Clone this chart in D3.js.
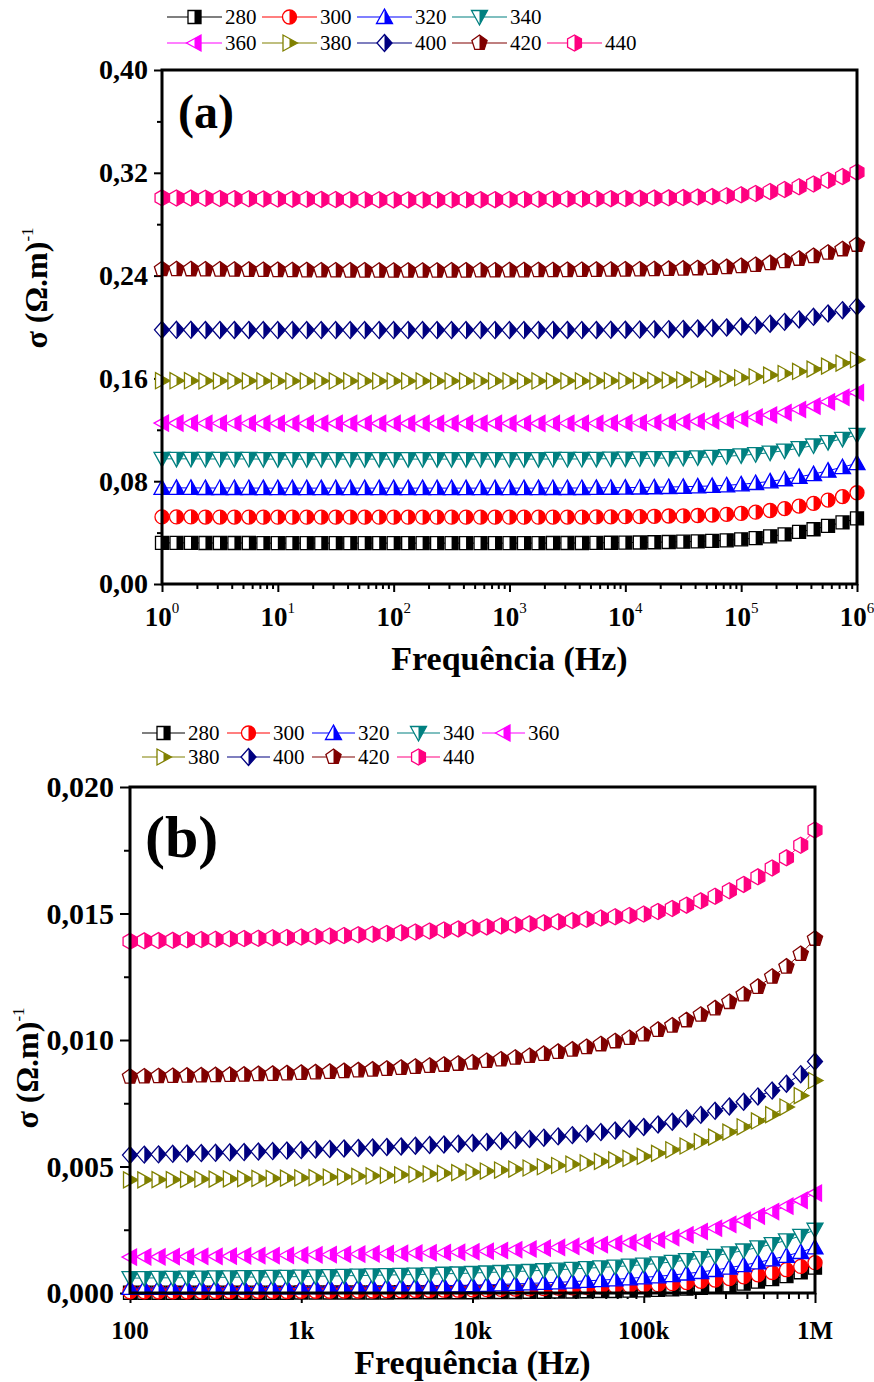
<!DOCTYPE html>
<html>
<head>
<meta charset="utf-8">
<script src="https://cdn.jsdelivr.net/npm/d3@7"></script>
<style>
  body { margin: 0; background: #fff; }
  svg { display: block; }
  text { font-family: "Liberation Serif", "Times New Roman", serif; fill: #000; }
</style>
</head>
<body>
<svg id="fig" width="874" height="1382"></svg>
<script>
// ---------- series labels, colours, symbols ----------
const temps   = ["280", "300", "320", "340", "360", "380", "400", "420", "440"];
const colors  = ["#000000", "#ff0000", "#0000ff", "#008080", "#ff00ff", "#808000", "#000080", "#800000", "#ff0080"];
const symbols = ["square", "circle", "triUp", "triDown", "triLeft", "triRight", "diamond", "pentagon", "hexagon"];

// ---------- panel (a): frequencies (Hz) ----------
const freqA = [
  1, 1.334, 1.778, 2.371, 3.162, 4.217, 5.623, 7.499,
  10, 13.34, 17.78, 23.71, 31.62, 42.17, 56.23, 74.99,
  100, 133.4, 177.8, 237.1, 316.2, 421.7, 562.3, 749.9,
  1000, 1334, 1778, 2371, 3162, 4217, 5623, 7499,
  10000, 13340, 17780, 23710, 31620, 42170, 56230, 74990,
  100000, 133400, 177800, 237100, 316200, 421700, 562300, 749900,
  1000000
];

// panel (a): conductivity (Ω.m)^-1 for each temperature
const a280 = [
  0.0320,0.0320,0.0320,0.0319,0.0319,0.0319,0.0319,0.0318,0.0318,0.0318,0.0318,0.0318,
  0.0318,0.0318,0.0318,0.0318,0.0318,0.0318,0.0318,0.0318,0.0318,0.0318,0.0318,0.0318,
  0.0318,0.0318,0.0318,0.0319,0.0319,0.0319,0.0320,0.0321,0.0322,0.0323,0.0325,0.0327,
  0.0329,0.0331,0.0335,0.0340,0.0348,0.0357,0.0371,0.0386,0.0405,0.0426,0.0453,0.0479,0.0510
];
const a300 = [
  0.0522,0.0522,0.0522,0.0521,0.0521,0.0521,0.0521,0.0520,0.0520,0.0520,0.0520,0.0520,
  0.0520,0.0520,0.0520,0.0520,0.0520,0.0520,0.0520,0.0520,0.0520,0.0520,0.0520,0.0520,
  0.0520,0.0520,0.0520,0.0521,0.0521,0.0521,0.0522,0.0523,0.0524,0.0525,0.0527,0.0529,
  0.0530,0.0533,0.0537,0.0542,0.0549,0.0559,0.0572,0.0587,0.0606,0.0627,0.0653,0.0680,0.0710
];
const a320 = [
  0.0748,0.0748,0.0748,0.0747,0.0747,0.0747,0.0747,0.0746,0.0746,0.0746,0.0746,0.0746,
  0.0746,0.0746,0.0746,0.0746,0.0746,0.0746,0.0746,0.0746,0.0746,0.0746,0.0746,0.0746,
  0.0746,0.0746,0.0746,0.0747,0.0747,0.0747,0.0748,0.0749,0.0750,0.0751,0.0753,0.0755,
  0.0757,0.0760,0.0763,0.0768,0.0776,0.0786,0.0799,0.0815,0.0834,0.0855,0.0882,0.0909,0.0940
];
const a340 = [
  0.0974,0.0974,0.0974,0.0973,0.0973,0.0973,0.0973,0.0972,0.0972,0.0972,0.0972,0.0972,
  0.0972,0.0972,0.0972,0.0972,0.0972,0.0972,0.0972,0.0972,0.0972,0.0972,0.0972,0.0972,
  0.0972,0.0972,0.0972,0.0973,0.0973,0.0973,0.0974,0.0975,0.0976,0.0977,0.0979,0.0980,
  0.0982,0.0985,0.0989,0.0994,0.1001,0.1010,0.1023,0.1038,0.1057,0.1078,0.1104,0.1130,0.1160
];
const a360 = [
  0.1252,0.1252,0.1252,0.1251,0.1251,0.1251,0.1251,0.1250,0.1250,0.1250,0.1250,0.1250,
  0.1250,0.1250,0.1250,0.1250,0.1250,0.1250,0.1250,0.1250,0.1250,0.1250,0.1250,0.1250,
  0.1250,0.1250,0.1250,0.1251,0.1251,0.1250,0.1251,0.1252,0.1254,0.1255,0.1257,0.1260,
  0.1262,0.1266,0.1270,0.1276,0.1286,0.1298,0.1315,0.1334,0.1358,0.1384,0.1418,0.1452,0.1490
];
const a380 = [
  0.1582,0.1582,0.1582,0.1581,0.1581,0.1581,0.1581,0.1580,0.1580,0.1580,0.1580,0.1580,
  0.1580,0.1580,0.1580,0.1580,0.1580,0.1580,0.1580,0.1580,0.1580,0.1580,0.1580,0.1580,
  0.1580,0.1580,0.1580,0.1581,0.1581,0.1580,0.1581,0.1582,0.1582,0.1583,0.1585,0.1587,
  0.1588,0.1591,0.1594,0.1598,0.1605,0.1613,0.1625,0.1638,0.1654,0.1672,0.1696,0.1719,0.1745
];
const a400 = [
  0.1978,0.1978,0.1978,0.1977,0.1977,0.1977,0.1977,0.1976,0.1976,0.1976,0.1976,0.1976,
  0.1976,0.1976,0.1976,0.1976,0.1976,0.1976,0.1976,0.1976,0.1976,0.1976,0.1976,0.1976,
  0.1976,0.1976,0.1976,0.1977,0.1977,0.1976,0.1977,0.1978,0.1979,0.1980,0.1982,0.1983,
  0.1985,0.1988,0.1992,0.1996,0.2004,0.2013,0.2026,0.2040,0.2059,0.2079,0.2105,0.2131,0.2160
];
const a420 = [
  0.2450,0.2450,0.2449,0.2448,0.2447,0.2446,0.2445,0.2444,0.2443,0.2442,0.2441,0.2440,
  0.2440,0.2439,0.2439,0.2438,0.2438,0.2438,0.2438,0.2438,0.2439,0.2439,0.2440,0.2440,
  0.2441,0.2441,0.2442,0.2442,0.2443,0.2444,0.2445,0.2446,0.2447,0.2448,0.2450,0.2452,
  0.2454,0.2457,0.2461,0.2466,0.2474,0.2483,0.2497,0.2512,0.2531,0.2552,0.2578,0.2605,0.2640
];
const a440 = [
  0.3005,0.3004,0.3003,0.3002,0.3000,0.2999,0.2998,0.2997,0.2996,0.2995,0.2994,0.2993,
  0.2992,0.2991,0.2990,0.2990,0.2989,0.2989,0.2989,0.2989,0.2990,0.2990,0.2991,0.2991,
  0.2992,0.2993,0.2994,0.2995,0.2996,0.2997,0.2998,0.2999,0.3000,0.3001,0.3003,0.3005,
  0.3007,0.3011,0.3015,0.3021,0.3029,0.3039,0.3054,0.3070,0.3091,0.3113,0.3142,0.3171,0.3205
];

// ---------- panel (b): frequencies (Hz) ----------
const freqB = [
  100, 121.2, 146.8, 177.8, 215.4, 261.0, 316.2, 383.1, 464.2, 562.3, 681.3, 825.4,
  1000, 1212, 1468, 1778, 2154, 2610, 3162, 3831, 4642, 5623, 6813, 8254,
  10000, 12120, 14680, 17780, 21540, 26100, 31620, 38310, 46420, 56230, 68130, 82540,
  100000, 121200, 146800, 177800, 215400, 261000, 316200, 383100, 464200, 562300, 681300, 825400,
  1000000
];

// panel (b): conductivity (Ω.m)^-1 for each temperature
const b280 = [
  0.00001,0.00001,0.00001,0.00001,0.00001,0.00001,0.00001,0.00001,0.00001,0.00001,0.00001,0.00001,
  0.00002,0.00002,0.00002,0.00002,0.00002,0.00002,0.00002,0.00003,0.00003,0.00003,0.00003,0.00003,
  0.00003,0.00004,0.00004,0.00004,0.00005,0.00005,0.00006,0.00006,0.00007,0.00008,0.00008,0.00009,
  0.00010,0.00012,0.00014,0.00017,0.00020,0.00024,0.00030,0.00037,0.00045,0.00055,0.00067,0.00082,0.00100
];
const b300 = [
  0.00005,0.00005,0.00005,0.00005,0.00005,0.00005,0.00006,0.00006,0.00006,0.00006,0.00006,0.00006,
  0.00007,0.00007,0.00007,0.00008,0.00008,0.00008,0.00009,0.00009,0.00010,0.00010,0.00011,0.00011,
  0.00012,0.00013,0.00014,0.00015,0.00016,0.00017,0.00019,0.00020,0.00022,0.00024,0.00026,0.00028,
  0.00030,0.00033,0.00037,0.00041,0.00046,0.00051,0.00057,0.00064,0.00072,0.00081,0.00092,0.00105,0.00120
];
const b320 = [
  0.00020,0.00020,0.00020,0.00020,0.00021,0.00021,0.00021,0.00021,0.00021,0.00022,0.00022,0.00022,
  0.00022,0.00023,0.00023,0.00024,0.00024,0.00025,0.00026,0.00026,0.00027,0.00028,0.00029,0.00030,
  0.00031,0.00032,0.00034,0.00036,0.00038,0.00040,0.00042,0.00045,0.00048,0.00051,0.00054,0.00058,
  0.00062,0.00066,0.00071,0.00077,0.00083,0.00091,0.00100,0.00110,0.00121,0.00133,0.00147,0.00162,0.00180
];
const b340 = [
  0.00059,0.00059,0.00060,0.00060,0.00061,0.00061,0.00062,0.00062,0.00063,0.00063,0.00064,0.00064,
  0.00065,0.00066,0.00067,0.00068,0.00069,0.00070,0.00071,0.00072,0.00073,0.00074,0.00076,0.00077,
  0.00079,0.00081,0.00083,0.00085,0.00087,0.00090,0.00092,0.00095,0.00098,0.00101,0.00104,0.00108,
  0.00112,0.00117,0.00123,0.00130,0.00138,0.00147,0.00157,0.00168,0.00180,0.00193,0.00208,0.00226,0.00250
];
const b360 = [
  0.00142,0.00143,0.00143,0.00144,0.00144,0.00145,0.00145,0.00146,0.00147,0.00148,0.00148,0.00149,
  0.00150,0.00151,0.00152,0.00153,0.00154,0.00155,0.00156,0.00157,0.00158,0.00159,0.00160,0.00161,
  0.00163,0.00165,0.00168,0.00171,0.00174,0.00177,0.00180,0.00184,0.00187,0.00191,0.00195,0.00199,
  0.00203,0.00210,0.00219,0.00230,0.00243,0.00256,0.00271,0.00287,0.00304,0.00322,0.00343,0.00366,0.00395
];
const b380 = [
  0.00447,0.00447,0.00448,0.00448,0.00449,0.00450,0.00450,0.00451,0.00452,0.00453,0.00453,0.00454,
  0.00455,0.00456,0.00458,0.00459,0.00461,0.00463,0.00465,0.00467,0.00469,0.00471,0.00473,0.00476,
  0.00478,0.00482,0.00486,0.00490,0.00494,0.00499,0.00504,0.00509,0.00514,0.00520,0.00526,0.00532,
  0.00540,0.00552,0.00566,0.00581,0.00598,0.00616,0.00636,0.00657,0.00680,0.00705,0.00735,0.00780,0.00840
];
const b400 = [
  0.00545,0.00547,0.00548,0.00550,0.00551,0.00553,0.00554,0.00556,0.00557,0.00559,0.00561,0.00563,
  0.00565,0.00567,0.00569,0.00571,0.00573,0.00575,0.00577,0.00579,0.00582,0.00585,0.00587,0.00590,
  0.00593,0.00597,0.00601,0.00605,0.00609,0.00614,0.00619,0.00624,0.00630,0.00636,0.00642,0.00649,
  0.00656,0.00666,0.00677,0.00690,0.00704,0.00720,0.00737,0.00756,0.00777,0.00800,0.00827,0.00865,0.00915
];
const b420 = [
  0.00855,0.00856,0.00857,0.00858,0.00859,0.00860,0.00861,0.00862,0.00863,0.00865,0.00866,0.00868,
  0.00870,0.00872,0.00874,0.00877,0.00880,0.00883,0.00886,0.00890,0.00894,0.00898,0.00902,0.00906,
  0.00911,0.00917,0.00923,0.00930,0.00937,0.00945,0.00953,0.00962,0.00972,0.00983,0.00995,0.01008,
  0.01022,0.01040,0.01057,0.01078,0.01100,0.01125,0.01150,0.01180,0.01210,0.01250,0.01290,0.01340,0.01400
];
const b440 = [
  0.01390,0.01392,0.01393,0.01394,0.01396,0.01397,0.01398,0.01400,0.01401,0.01402,0.01404,0.01405,
  0.01407,0.01409,0.01411,0.01413,0.01416,0.01418,0.01421,0.01424,0.01427,0.01431,0.01435,0.01439,
  0.01443,0.01447,0.01451,0.01455,0.01459,0.01463,0.01467,0.01472,0.01477,0.01482,0.01487,0.01492,
  0.01498,0.01508,0.01520,0.01533,0.01550,0.01568,0.01590,0.01615,0.01645,0.01680,0.01720,0.01770,0.01830
];

// ---------- tick values and labels ----------
const yTicksA      = [0, 0.08, 0.16, 0.24, 0.32, 0.40];
const yMinorA      = [0.04, 0.12, 0.20, 0.28, 0.36];
const xTicksA      = [1, 10, 100, 1000, 10000, 100000, 1000000];
const xExpA        = ["0", "1", "2", "3", "4", "5", "6"];
const yTicksB      = [0, 0.005, 0.010, 0.015, 0.020];
const yMinorB      = [0.0025, 0.0075, 0.0125, 0.0175];
const xTicksB      = [100, 1000, 10000, 100000, 1000000];
const xLabelsB     = ["100", "1k", "10k", "100k", "1M"];

const seriesA = [a280, a300, a320, a340, a360, a380, a400, a420, a440];
const seriesB = [b280, b300, b320, b340, b360, b380, b400, b420, b440];

// ---------- drawing ----------
const svg = d3.select("#fig");
svg.append("rect").attr("width", 874).attr("height", 1382).attr("fill", "#fff");

// clip that keeps only the right half of a symbol (in the symbol's own coordinates)
svg.append("defs").append("clipPath")
  .attr("id", "rightHalf").attr("clipPathUnits", "userSpaceOnUse")
  .append("rect").attr("x", 0).attr("y", -20).attr("width", 20).attr("height", 40);

function poly(pts) { return "M" + pts.map(p => p[0].toFixed(2) + "," + p[1].toFixed(2)).join("L") + "Z"; }
function regular(n, r, rot) {
  const pts = [];
  for (let k = 0; k < n; k++) {
    const a = (rot + k * 360 / n) * Math.PI / 180;
    pts.push([r * Math.cos(a), r * Math.sin(a)]);
  }
  return poly(pts);
}
function symbolPath(kind) {
  switch (kind) {
    case "square":   return poly([[-6.5, -6.5], [6.5, -6.5], [6.5, 6.5], [-6.5, 6.5]]);
    case "circle":   return "M-7,0A7,7 0 1,1 7,0A7,7 0 1,1 -7,0Z";
    case "triUp":    return poly([[0, -8], [8, 6.5], [-8, 6.5]]);
    case "triDown":  return poly([[-8, -6.5], [8, -6.5], [0, 8]]);
    case "triLeft":  return poly([[-8, 0], [6.5, -8], [6.5, 8]]);
    case "triRight": return poly([[8, 0], [-6.5, -8], [-6.5, 8]]);
    case "diamond":  return poly([[0, -8.5], [7.5, 0], [0, 8.5], [-7.5, 0]]);
    case "pentagon": return regular(5, 8, -90);
    case "hexagon":  return regular(6, 8, -90);
  }
}

// half-filled marker: white left half, coloured right half, coloured outline
function addMarkers(sel, kind, color) {
  const d = symbolPath(kind);
  sel.append("path").attr("d", d).attr("fill", "#fff");
  sel.append("path").attr("d", d).attr("fill", color).attr("clip-path", "url(#rightHalf)");
  sel.append("path").attr("d", d).attr("fill", "none").attr("stroke", color).attr("stroke-width", 1.3);
}

function drawPanel(o) {
  const g = svg.append("g");
  const x = d3.scaleLog().domain(o.xDomain).range([o.left, o.right]);
  const y = d3.scaleLinear().domain(o.yDomain).range([o.bottom, o.top]);

  // minor x ticks (2..9 within each decade)
  const minorX = [];
  for (let dec = o.xDomain[0]; dec < o.xDomain[1]; dec *= 10)
    for (let k = 2; k <= 9; k++) minorX.push(dec * k);

  const styleAxis = a => {
    a.select(".domain").remove();
    a.selectAll("line").attr("stroke", "#000").attr("stroke-width", 2);
  };

  g.append("g").attr("transform", `translate(0,${o.bottom})`)
    .call(d3.axisBottom(x).tickValues(minorX).tickSize(o.minorLen).tickFormat(""))
    .call(styleAxis);
  g.append("g").attr("transform", `translate(0,${o.bottom})`)
    .call(d3.axisBottom(x).tickValues(o.xTicks).tickSize(o.majorLen).tickFormat(""))
    .call(styleAxis);

  g.append("g").attr("transform", `translate(${o.left},0)`)
    .call(d3.axisLeft(y).tickValues(o.yMinor).tickSize(o.minorLen).tickFormat(""))
    .call(styleAxis);
  const yAx = g.append("g").attr("transform", `translate(${o.left},0)`)
    .call(d3.axisLeft(y).tickValues(o.yTicks).tickSize(o.majorLen).tickPadding(6)
      .tickFormat(v => d3.format(o.yFmt)(v).replace(".", ",")))
    .call(styleAxis);
  yAx.selectAll("text")
    .attr("font-family", "Liberation Serif, Times New Roman, serif")
    .attr("font-size", o.yTickFont).attr("font-weight", "bold").attr("fill", "#000");

  // x tick labels
  o.xTicks.forEach((v, i) => {
    const t = g.append("text").attr("x", x(v)).attr("y", o.xLabelY)
      .attr("text-anchor", "middle").attr("font-size", o.xTickFont).attr("font-weight", "bold");
    if (o.xExp) {
      t.append("tspan").text("10");
      t.append("tspan").attr("dy", -13).attr("font-size", 15).attr("font-weight", "normal").text(o.xExp[i]);
    } else {
      t.text(o.xLabels[i]);
    }
  });

  // data: thin connecting line under half-filled markers
  o.series.forEach((vals, si) => {
    const pts = vals.map((v, i) => [x(o.freq[i]), y(v)]);
    g.append("path").attr("d", d3.line()(pts))
      .attr("fill", "none").attr("stroke", colors[si]).attr("stroke-width", 1);
    const mk = g.append("g").selectAll("g").data(pts).join("g")
      .attr("transform", p => `translate(${p[0].toFixed(2)},${p[1].toFixed(2)})`);
    addMarkers(mk, symbols[si], colors[si]);
  });

  // frame
  g.append("rect").attr("x", o.left).attr("y", o.top)
    .attr("width", o.right - o.left).attr("height", o.bottom - o.top)
    .attr("fill", "none").attr("stroke", "#000").attr("stroke-width", 3);

  // panel tag
  g.append("text").attr("x", o.tagX).attr("y", o.tagY)
    .attr("font-size", o.tagFont).attr("font-weight", "bold").text(o.tag);

  // axis titles
  g.append("text").attr("x", (o.left + o.right) / 2).attr("y", o.xTitleY)
    .attr("text-anchor", "middle").attr("font-size", 34).attr("font-weight", "bold")
    .text("Frequência (Hz)");
  const yt = g.append("text")
    .attr("transform", `translate(${o.yTitleX},${o.yTitleY}) rotate(-90)`)
    .attr("text-anchor", "middle").attr("font-size", 32).attr("font-weight", "bold");
  yt.append("tspan").text("σ (Ω.m)");
  yt.append("tspan").attr("dy", -14).attr("font-size", 17).attr("font-weight", "normal").text("-1");

  // legend
  o.legendRows.forEach((row, ri) => {
    row.forEach((si, ci) => {
      const x0 = o.legX + ci * o.legStep, yy = o.legY[ri];
      const lg = g.append("g");
      lg.append("line").attr("x1", x0).attr("x2", x0 + o.legLine)
        .attr("y1", yy).attr("y2", yy).attr("stroke", colors[si]).attr("stroke-width", 1.2);
      const m = lg.append("g").attr("transform", `translate(${x0 + o.legLine / 2},${yy})`);
      addMarkers(m, symbols[si], colors[si]);
      lg.append("text").attr("x", x0 + o.legLine + 3).attr("y", yy + 7)
        .attr("font-size", 21).text(temps[si]);
    });
  });
}

drawPanel({
  left: 162, right: 857, top: 70, bottom: 584,
  xDomain: [1, 1000000], yDomain: [0, 0.40],
  xTicks: xTicksA, xExp: xExpA, yTicks: yTicksA, yMinor: yMinorA, yFmt: ".2f",
  majorLen: 8, minorLen: 5, yTickFont: 28, xTickFont: 27, xLabelY: 626,
  freq: freqA, series: seriesA,
  tag: "(a)", tagX: 178, tagY: 128, tagFont: 48,
  xTitleY: 670, yTitleX: 47, yTitleY: 288,
  legendRows: [[0, 1, 2, 3], [4, 5, 6, 7, 8]], legX: 167, legStep: 95, legLine: 55, legY: [17, 43]
});

drawPanel({
  left: 130, right: 815, top: 787, bottom: 1293,
  xDomain: [100, 1000000], yDomain: [0, 0.020],
  xTicks: xTicksB, xLabels: xLabelsB, yTicks: yTicksB, yMinor: yMinorB, yFmt: ".3f",
  majorLen: 10, minorLen: 6, yTickFont: 30, xTickFont: 25, xLabelY: 1339,
  freq: freqB, series: seriesB,
  tag: "(b)", tagX: 145, tagY: 857, tagFont: 60,
  xTitleY: 1374, yTitleX: 38, yTitleY: 1068,
  legendRows: [[0, 1, 2, 3, 4], [5, 6, 7, 8]], legX: 142, legStep: 85, legLine: 43, legY: [733, 757]
});
</script>
</body>
</html>
